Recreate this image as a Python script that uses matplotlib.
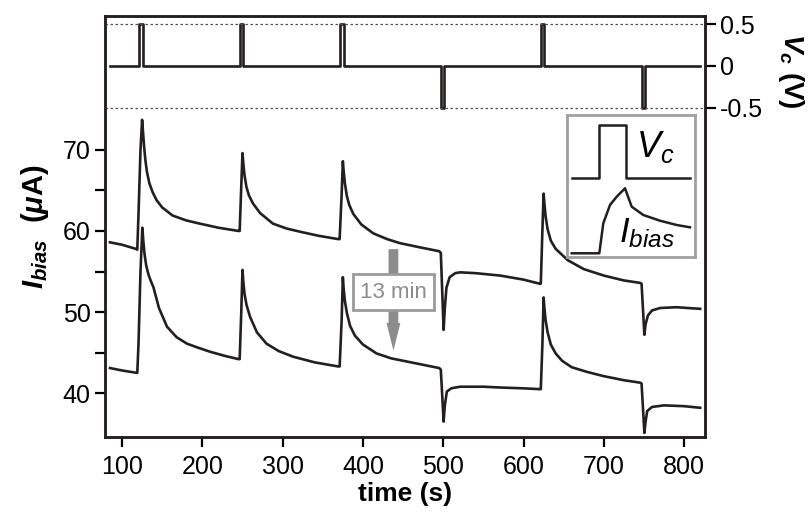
import matplotlib
matplotlib.use("Agg")
import matplotlib.pyplot as plt
import numpy as np

plt.rcParams['font.family'] = ['Liberation Sans', 'DejaVu Sans']
plt.rcParams['mathtext.fontset'] = 'custom'
plt.rcParams['mathtext.rm'] = 'Liberation Sans'
plt.rcParams['mathtext.it'] = 'Liberation Sans:italic'
plt.rcParams['mathtext.bf'] = 'Liberation Sans:bold'
plt.rcParams['mathtext.bfit'] = 'Liberation Sans:bold:italic'
plt.rcParams['axes.unicode_minus'] = False

# control voltage pulses (s, V)
vc_t0 = 85
vc_t1 = 820
pulse_start = [121.5, 246.5, 371.5, 497, 621.5, 747]
pulse_end = [126, 251, 376, 501.5, 626, 751.5]
pulse_amp = [0.5, 0.5, 0.5, -0.5, 0.5, -0.5]

# I_bias, first run (s, uA)
t_a = [85, 100, 117, 119, 120.5, 123, 125, 126, 127.5, 129, 131, 134, 138, 143, 150, 163, 180, 197, 220, 245,
       246.5, 248.5, 250, 251, 252.5, 255, 258, 263, 272, 288, 305, 322, 345, 369,
       371, 373.5, 375, 376, 377.5, 380, 383, 388, 398, 413, 430, 446, 470, 495,
       497, 500.5, 502, 504, 508, 515, 521, 540, 571, 600, 620,
       621.5, 623.5, 625, 626, 627.5, 630, 634, 640, 655, 675, 700, 725, 745,
       747, 750.5, 752, 755, 760, 770, 790, 820]
i_a = [58.6, 58.3, 57.8, 57.7, 62, 70, 73.7, 72.4, 70.4, 68.8, 67.3, 65.9, 64.8, 63.8, 62.9, 61.9, 61.3, 60.9, 60.4, 60.0,
       60.0, 65.5, 69.6, 68.4, 66.9, 65.4, 64.4, 63.4, 62.2, 60.9, 60.3, 59.9, 59.4, 59.0,
       59.0, 64.5, 68.6, 67.4, 65.9, 64.3, 63.2, 62.1, 60.8, 59.7, 59.0, 58.5, 58.0, 57.5,
       57.3, 47.8, 50.5, 53, 54.3, 54.8, 54.9, 54.8, 54.5, 54.0, 53.5,
       53.5, 60, 64.6, 63.4, 61.8, 60.2, 58.8, 57.8, 56.4, 55.3, 54.5, 53.9, 53.6,
       53.5, 47.2, 48.5, 49.6, 50.2, 50.5, 50.6, 50.4]

# I_bias, 13 min later
t_b = [85, 100, 119, 120.5, 123, 125.3, 126.5, 128, 130, 133, 136, 139, 146, 156, 168, 181, 195, 210, 228, 245,
       246.5, 248.5, 250, 251, 252.5, 255, 259.5, 268, 280, 295, 313, 340, 369,
       371, 373.5, 375, 376, 377.5, 380, 384, 390, 400, 417, 435, 455, 475, 495,
       497, 500.5, 502, 504.5, 510, 521, 550, 571, 600, 620,
       621.5, 623.5, 625, 626, 627.5, 630, 634, 640, 648, 660, 680, 700, 725, 745,
       747, 750.5, 752, 754, 760, 775, 800, 820]
i_b = [43.1, 42.8, 42.5, 46, 55, 60.4, 58.8, 57.2, 55.8, 54.6, 53.8, 53.1, 50.5, 48.2, 46.9, 46.1, 45.6, 45.1, 44.6, 44.2,
       44.2, 50, 55.2, 53.8, 52.3, 50.9, 49.4, 47.5, 46.1, 45.2, 44.5, 43.8, 43.3,
       43.3, 49, 54.3, 52.9, 51.4, 49.9, 48.3, 47.1, 46.0, 44.9, 44.3, 43.9, 43.5, 43.1,
       42.9, 36.5, 38.5, 40.2, 40.6, 40.8, 40.8, 40.7, 40.6, 40.5,
       40.5, 46, 51.8, 50.5, 49.0, 47.5, 46.0, 44.9, 44.0, 43.2, 42.6, 42.1, 41.6, 41.3,
       41.2, 35.1, 36.5, 37.8, 38.3, 38.5, 38.4, 38.2]

# inset sketch (arbitrary units)
sk_vc_x = [4.7, 32.3, 32.3, 59, 59, 123]
sk_vc_y = [78.7, 78.7, 132, 132, 78.7, 78.7]
sk_i_x = [4.7, 32.3, 36.3, 43, 49.7, 58, 64.7, 76.3, 93, 109.7, 123]
sk_i_y = [3.7, 3.7, 33.7, 52, 60.3, 68.7, 50.3, 42, 36.3, 32, 29.7]

black = '#231f20'
gray = '#8c8c8c'

fig = plt.figure(figsize=(8.1, 5.13), dpi=100)
ax = fig.add_axes([105/810, 1-437/513, 600/810, 421/513])
ax.plot(t_a, i_a, color=black, lw=1.9)
ax.plot(t_b, i_b, color=black, lw=1.9)
ax.set_xlim(78.8, 826)
ax.set_ylim(34.6, 86.5)
ax.set_xticks(np.arange(100, 801, 100))
ax.set_yticks([40, 50, 60, 70])
ax.set_yticks([45, 55, 65], minor=True)
ax.tick_params(axis='both', which='both', direction='out', width=1.6, labelsize=18, right=False, top=False)
ax.tick_params(which='major', length=7)
ax.tick_params(which='minor', length=7)
ax.tick_params(axis='x', pad=6)
for s in ax.spines.values():
    s.set_linewidth(1.8)
    s.set_color(black)
ax.set_xlabel('time (s)', fontsize=19, fontweight='bold', labelpad=2)
ax.set_ylabel(r'$\mathbfit{I}_{\mathbfit{bias}}$  $\mathbf{(}\mathbfit{\mu}\mathbf{A)}$', fontsize=21, labelpad=8)

# control voltage on the right axis
tw = ax.twinx()
vt = [vc_t0]
vv = [0]
for s0, s1, a in zip(pulse_start, pulse_end, pulse_amp):
    vt += [s0, s0, s1, s1]
    vv += [0, a, a, 0]
vt.append(vc_t1)
vv.append(0)
tw.plot(vt, vv, color=black, lw=1.9)
tw.axhline(0.5, color='#555555', lw=0.9, ls=(0, (2, 2)))
tw.axhline(-0.5, color='#555555', lw=0.9, ls=(0, (2, 2)))
tw.set_ylim(-4.434, 0.596)
tw.set_yticks([-0.5, 0, 0.5])
tw.set_yticklabels(['-0.5', '0', '0.5'])
tw.tick_params(axis='y', direction='out', length=8, width=1.6, labelsize=18, pad=3)
for s in tw.spines.values():
    s.set_linewidth(1.8)
    s.set_color(black)
fig.text(791/810, 1-71/513, r'$\mathbfit{V}_{\mathbfit{c}}$ $\mathbf{(V)}$', fontsize=20,
         rotation=270, ha='center', va='center')

# 13 min arrow
ax.annotate('', xy=(438, 44.9), xytext=(438, 58.1),
            arrowprops=dict(arrowstyle='simple,head_width=0.5,head_length=1.0,tail_width=0.35',
                            color=gray, mutation_scale=20, lw=0))
ax.text(438, 52.45, '13 min', fontsize=16, color=gray, ha='center', va='center',
        bbox=dict(boxstyle='square,pad=0.33', fc='white', ec='#9a9a9a', lw=2))

# inset schematic
ins = fig.add_axes([567/810, 1-257/513, 128/810, 142/513])
ins.plot(sk_vc_x, sk_vc_y, color=black, lw=1.8)
ins.plot(sk_i_x, sk_i_y, color=black, lw=1.8)
ins.set_xlim(0, 128)
ins.set_ylim(0, 142)
ins.set_xticks([])
ins.set_yticks([])
for s in ins.spines.values():
    s.set_linewidth(2)
    s.set_color('#a0a0a0')
ins.text(69, 110, r'$V_c$', fontsize=26, ha='left', va='center')
ins.text(52, 24, r'$I_{bias}$', fontsize=25, ha='left', va='center')

fig.savefig('out.png', dpi=100)
